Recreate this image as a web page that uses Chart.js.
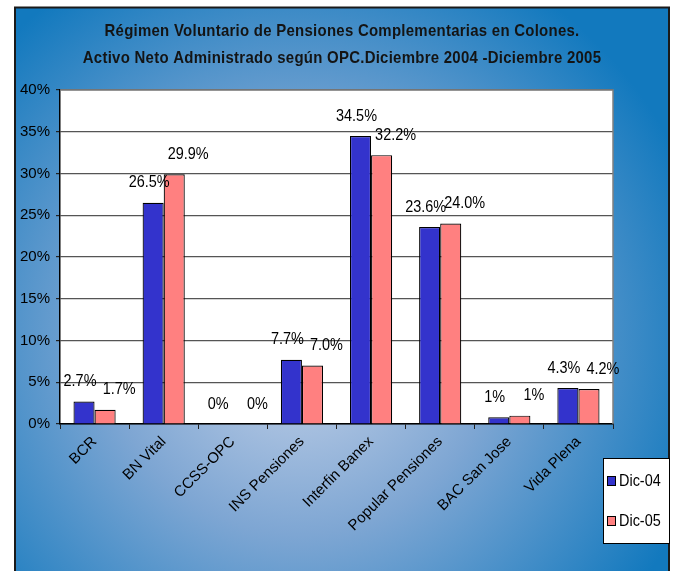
<!DOCTYPE html>
<html>
<head>
<meta charset="utf-8">
<script src="https://cdn.jsdelivr.net/npm/chart.js@4/dist/chart.umd.min.js"></script>
<style>
  html, body { margin: 0; padding: 0; background: #fff; }
  canvas { display: block; }
</style>
</head>
<body>
<canvas id="opcChart" width="676" height="571"></canvas>
<script>
// Datos del gráfico
const categories = ['BCR', 'BN Vital', 'CCSS-OPC', 'INS Pensiones', 'Interfin Banex',
  'Popular Pensiones', 'BAC San Jose', 'Vida Plena'];
const dic04 = [2.7, 26.5, 0, 7.7, 34.5, 23.6, 0.8, 4.3];
const dic05 = [1.7, 29.9, 0, 7.0, 32.2, 24.0, 1.0, 4.2];
const dic04Labels = ['2.7%', '26.5%', '0%', '7.7%', '34.5%', '23.6%', '1%', '4.3%'];
const dic05Labels = ['1.7%', '29.9%', '0%', '7.0%', '32.2%', '24.0%', '1%', '4.2%'];
const seriesNames = ['Dic-04', 'Dic-05'];
const titleLines = [
  'Régimen Voluntario de Pensiones Complementarias en Colones.',
  'Activo Neto Administrado según OPC.Diciembre 2004 -Diciembre 2005'
];

const FONT = '"Liberation Sans", Arial, sans-serif';
const BLUE = '#3333CC';
const SALMON = '#FF8080';

// texto estrecho (la fuente original es condensada)
function narrowText(ctx, text, x, y, squeeze) {
  ctx.save();
  ctx.translate(x, y);
  ctx.scale(squeeze, 1);
  ctx.fillText(text, 0, 0);
  ctx.restore();
}

// Fondo azul degradado y marco
const backgroundPlugin = {
  id: 'background',
  beforeDraw(chart) {
    const { ctx, chartArea } = chart;
    ctx.save();
    ctx.fillStyle = '#ffffff';
    ctx.fillRect(0, 0, chart.width, chart.height);

    const grad = ctx.createRadialGradient(300, 340, 10, 300, 340, 420);
    grad.addColorStop(0, '#c3d1e8');
    grad.addColorStop(0.45, '#7ea6d3');
    grad.addColorStop(1, '#1279be');
    ctx.fillStyle = grad;
    ctx.fillRect(14, 7, 656, 570);

    ctx.strokeStyle = '#1a1a1a';
    ctx.lineWidth = 2;
    ctx.beginPath();
    ctx.moveTo(15, 580);
    ctx.lineTo(15, 7.5);
    ctx.lineTo(669, 7.5);
    ctx.lineTo(669, 580);
    ctx.stroke();

    ctx.fillStyle = '#ffffff';
    ctx.fillRect(chartArea.left, chartArea.top,
      chartArea.right - chartArea.left, chartArea.bottom - chartArea.top);
    ctx.restore();
  },
  beforeDatasetsDraw(chart) {
    const { ctx, chartArea } = chart;
    ctx.save();
    ctx.strokeStyle = '#808080';
    ctx.lineWidth = 1.5;
    ctx.beginPath();
    ctx.moveTo(chartArea.left, chartArea.top);
    ctx.lineTo(chartArea.right, chartArea.top);
    ctx.lineTo(chartArea.right, chartArea.bottom);
    ctx.stroke();
    ctx.restore();
  }
};

// Etiquetas de valor sobre las barras
const valueLabelPlugin = {
  id: 'valueLabels',
  afterDatasetsDraw(chart) {
    const { ctx } = chart;
    const labelSets = [dic04Labels, dic05Labels];
    const shifts = [-4, 14];
    ctx.save();
    ctx.font = '17px ' + FONT;
    ctx.fillStyle = '#000';
    ctx.textAlign = 'center';
    ctx.textBaseline = 'middle';
    chart.data.datasets.forEach((ds, i) => {
      chart.getDatasetMeta(i).data.forEach((bar, j) => {
        narrowText(ctx, labelSets[i][j], bar.x + shifts[i], bar.y - 20, 0.85);
      });
    });
    ctx.restore();
  }
};

// Título y leyenda
const titleLegendPlugin = {
  id: 'titleLegend',
  afterDraw(chart) {
    const { ctx } = chart;
    ctx.save();
    ctx.fillStyle = '#141414';
    ctx.font = 'bold 17px ' + FONT;
    ctx.letterSpacing = '0.3px';
    ctx.textAlign = 'center';
    ctx.textBaseline = 'middle';
    narrowText(ctx, titleLines[0], 342, 31, 0.88);
    narrowText(ctx, titleLines[1], 342, 58, 0.88);
    ctx.letterSpacing = '0px';

    // leyenda
    ctx.fillStyle = '#ffffff';
    ctx.fillRect(603, 458, 66, 85);
    ctx.strokeStyle = '#000';
    ctx.lineWidth = 1;
    ctx.strokeRect(603.5, 458.5, 66, 85);
    const colors = [BLUE, SALMON];
    ctx.font = '17px ' + FONT;
    ctx.textAlign = 'left';
    seriesNames.forEach((name, i) => {
      const y = 481 + i * 40;
      ctx.fillStyle = colors[i];
      ctx.fillRect(607, y - 4, 8, 9);
      ctx.strokeStyle = '#000';
      ctx.strokeRect(607.5, y - 4.5, 8, 9);
      ctx.fillStyle = '#000';
      narrowText(ctx, name, 619, y, 0.85);
    });
    ctx.restore();
  }
};

new Chart(document.getElementById('opcChart').getContext('2d'), {
  type: 'bar',
  data: {
    labels: categories,
    datasets: [
      {
        label: seriesNames[0],
        data: dic04,
        backgroundColor: BLUE,
        borderColor: '#000',
        borderWidth: 1.2,
        categoryPercentage: 0.61,
        barPercentage: 1
      },
      {
        label: seriesNames[1],
        data: dic05,
        backgroundColor: SALMON,
        borderColor: '#000',
        borderWidth: 1.2,
        categoryPercentage: 0.61,
        barPercentage: 1
      }
    ]
  },
  options: {
    responsive: false,
    devicePixelRatio: 1,
    animation: false,
    layout: {
      padding: { left: 14, right: 63, top: 90, bottom: 0 }
    },
    plugins: {
      legend: { display: false },
      title: { display: false },
      tooltip: { enabled: false }
    },
    scales: {
      y: {
        min: 0,
        max: 40,
        afterFit(scale) { scale.width = 46; },
        ticks: {
          stepSize: 5,
          padding: 6,
          color: '#000',
          font: { family: FONT, size: 15 },
          callback: v => v + '%'
        },
        grid: {
          color: '#555555',
          lineWidth: 1.2,
          tickColor: '#222',
          tickLength: 4
        },
        border: { color: '#000', width: 1.5 }
      },
      x: {
        afterFit(scale) { scale.height = 147; },
        ticks: {
          color: '#000',
          maxRotation: 45,
          minRotation: 45,
          padding: 4,
          font: { family: FONT, size: 15 }
        },
        grid: {
          offset: true,
          drawOnChartArea: false,
          drawTicks: true,
          tickLength: 5,
          tickColor: '#222'
        },
        border: { color: '#000', width: 1.5 }
      }
    }
  },
  plugins: [backgroundPlugin, valueLabelPlugin, titleLegendPlugin]
});
</script>
</body>
</html>
